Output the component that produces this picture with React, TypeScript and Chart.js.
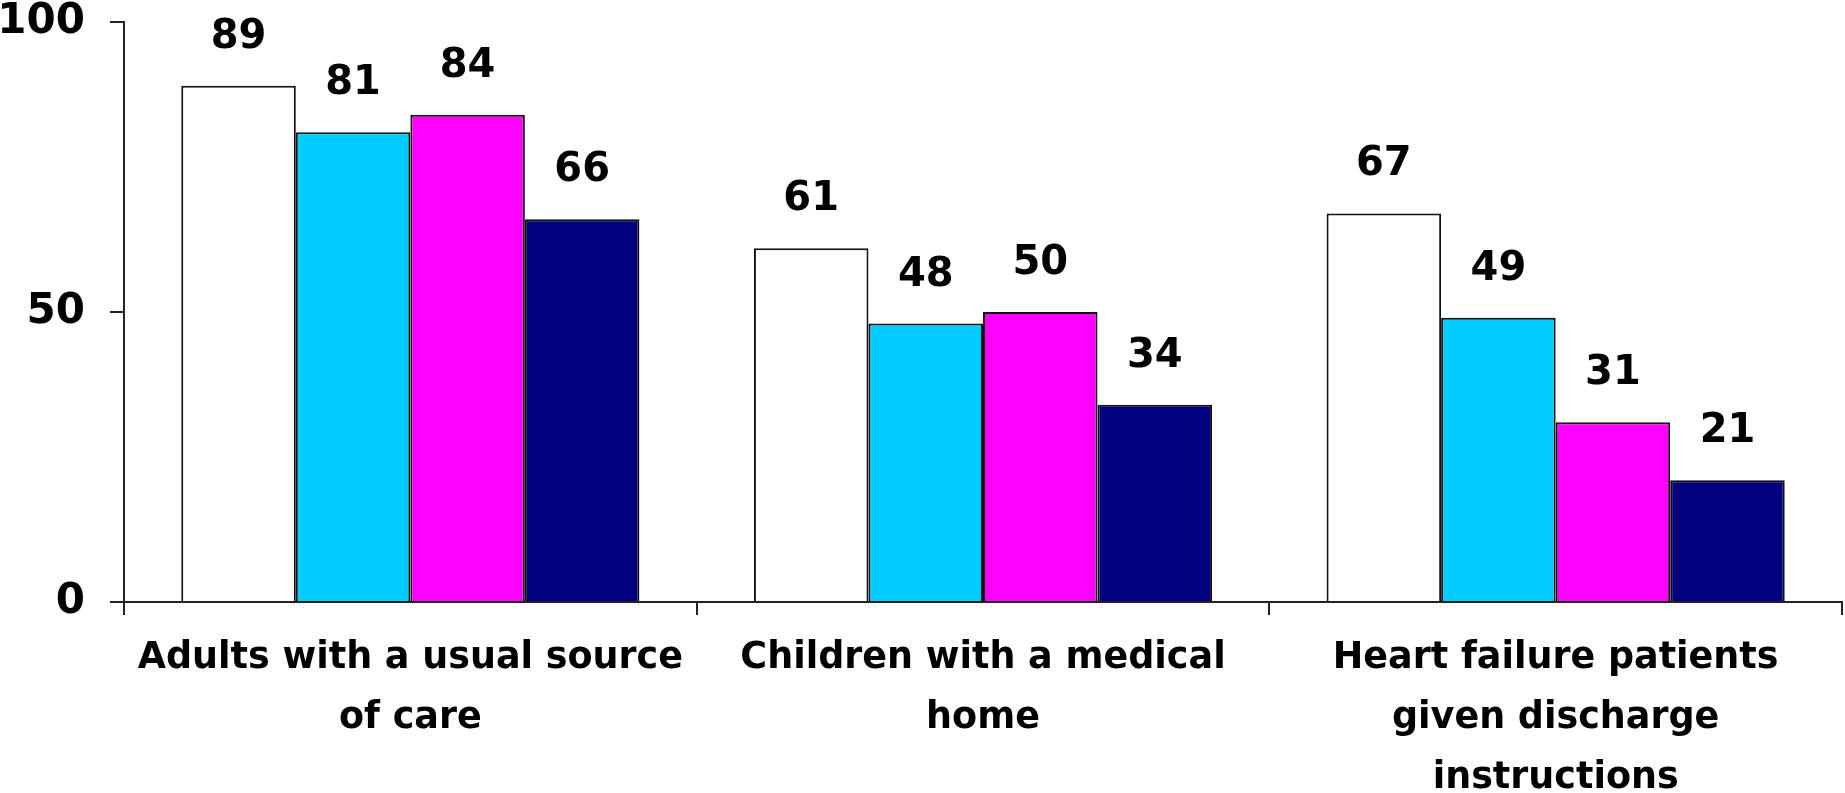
import React, { useEffect, useRef } from "react";
import { Chart, registerables } from "chart.js";

Chart.register(...registerables);

const categories: string[][] = [
  ["Adults with a usual source", "of care"],
  ["Children with a medical", "home"],
  ["Heart failure patients", "given discharge", "instructions"],
];

const series1: number[] = [89, 61, 67];
const series2: number[] = [81, 48, 49];
const series3: number[] = [84, 50, 31];
const series4: number[] = [66, 34, 21];

const seriesColors: string[] = ["#FFFFFF", "#00CCFF", "#FF00FF", "#000080"];

const yTicks: number[] = [0, 50, 100];

const FONT = "'DejaVu Sans', 'Liberation Sans', Arial, sans-serif";

const valueLabels = {
  id: "valueLabels",
  afterDatasetsDraw(chart: any) {
    const ctx = chart.ctx;
    ctx.save();
    ctx.font = `bold 40px ${FONT}`;
    ctx.fillStyle = "#000";
    ctx.textAlign = "center";
    ctx.textBaseline = "alphabetic";
    chart.data.datasets.forEach((ds: any, di: number) => {
      const meta = chart.getDatasetMeta(di);
      meta.data.forEach((el: any, i: number) => {
        ctx.fillText(String(ds.data[i]), el.x, el.y - 38);
      });
    });
    ctx.restore();
  },
};

export default function App() {
  const ref = useRef<HTMLCanvasElement | null>(null);

  useEffect(() => {
    if (!ref.current) return;
    const data = [series1, series2, series3, series4];
    const chart = new Chart(ref.current, {
      type: "bar",
      data: {
        labels: categories,
        datasets: data.map((d, i) => ({
          label: `Series ${i + 1}`,
          data: d,
          backgroundColor: seriesColors[i],
          borderColor: "#111",
          borderWidth: 2,
          categoryPercentage: 0.8,
          barPercentage: 1.0,
        })),
      },
      options: {
        responsive: false,
        animation: false,
        layout: { padding: { top: 22, right: 3, left: 0, bottom: 0 } },
        plugins: {
          legend: { display: false },
          tooltip: { enabled: false },
        },
        scales: {
          x: {
            offset: true,
            grid: {
              offset: true,
              drawOnChartArea: false,
              drawTicks: true,
              tickLength: 13,
              color: "#222",
              lineWidth: 2,
            },
            border: { display: true, color: "#222", width: 2 },
            ticks: {
              autoSkip: false,
              maxRotation: 0,
              minRotation: 0,
              padding: 14,
              color: "#000",
              font: { family: FONT, weight: "bold", size: 36.5, lineHeight: "60px" },
            },
            afterFit: (scale: any) => {
              scale.height = 191;
              scale.paddingLeft = 0;
              scale.paddingRight = 0;
            },
          },
          y: {
            min: 0,
            max: 100,
            afterBuildTicks: (scale: any) => {
              scale.ticks = yTicks.map((v) => ({ value: v }));
            },
            grid: {
              drawOnChartArea: false,
              drawTicks: true,
              tickLength: 14,
              color: "#222",
              lineWidth: 2,
            },
            border: { display: true, color: "#222", width: 2 },
            ticks: {
              padding: 25,
              color: "#000",
              font: { family: FONT, weight: "bold", size: 42, lineHeight: 1 },
            },
            afterFit: (scale: any) => {
              scale.width = 124;
              scale.paddingTop = 0;
              scale.paddingBottom = 0;
            },
          },
        },
      },
      plugins: [valueLabels],
    });
    return () => chart.destroy();
  }, []);

  return (
    <div style={{ position: "absolute", left: 0, top: 0, width: 1845, height: 793, background: "#fff" }}>
      <canvas ref={ref} width={1845} height={793} style={{ display: "block" }} />
    </div>
  );
}
